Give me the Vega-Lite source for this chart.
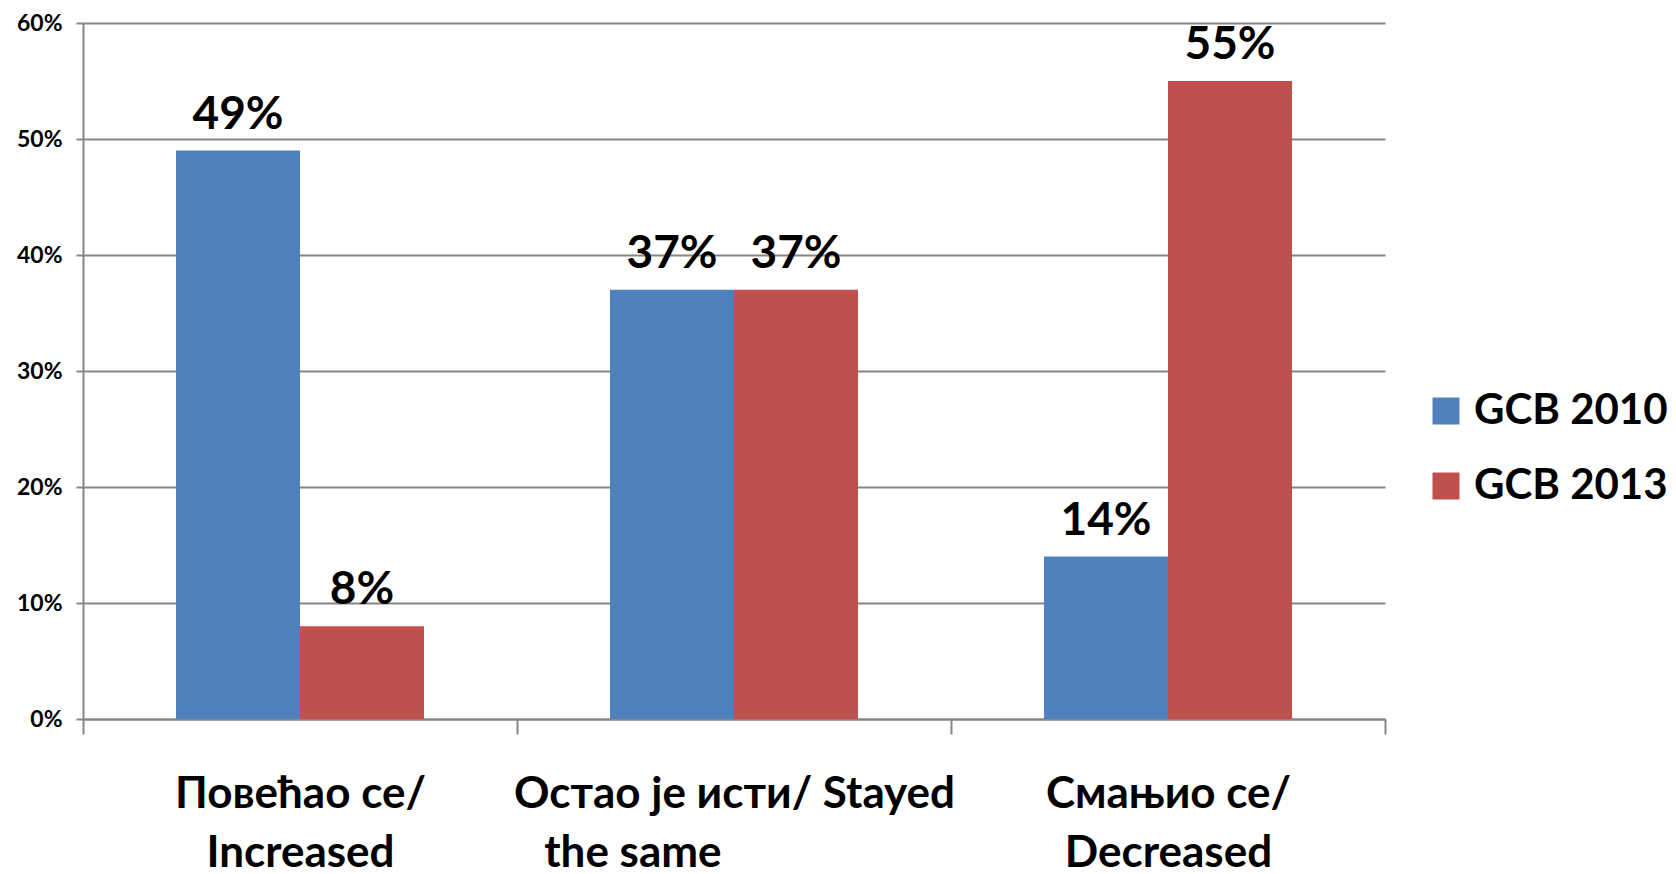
{
  "$schema": "https://vega.github.io/schema/vega-lite/v6.json",
  "width": 1302,
  "height": 696,
  "autosize": {"type": "none"},
  "padding": {"left": 83, "top": 23, "right": 291, "bottom": 155},
  "background": "white",
  "config": {"view": {"stroke": null}, "font": "Lato"},
  "data": {
    "values": [
      {"category": "Повећао се/ Increased", "series": "GCB 2010", "value": 0.49},
      {"category": "Повећао се/ Increased", "series": "GCB 2013", "value": 0.08},
      {"category": "Остао је исти/ Stayed the same", "series": "GCB 2010", "value": 0.37},
      {"category": "Остао је исти/ Stayed the same", "series": "GCB 2013", "value": 0.37},
      {"category": "Смањио се/ Decreased", "series": "GCB 2010", "value": 0.14},
      {"category": "Смањио се/ Decreased", "series": "GCB 2013", "value": 0.55}
    ]
  },
  "encoding": {
    "x": {
      "field": "category",
      "type": "nominal",
      "sort": null,
      "scale": {"paddingInner": 0, "paddingOuter": 0},
      "axis": {
        "title": null,
        "labelAngle": 0,
        "tickBand": "extent",
        "domainColor": "#868686",
        "domainWidth": 2,
        "tickColor": "#868686",
        "tickWidth": 2,
        "tickSize": 15,
        "labelPadding": 38,
        "labelFont": "Lato",
        "labelFontWeight": "bold",
        "labelFontSize": 44,
        "labelColor": "black",
        "labelLineHeight": 59,
        "labelBaseline": "top",
        "labelLimit": 0,
        "labelExpr": "datum.label == 'Остао је исти/ Stayed the same' ? ['Остао је исти/ Stayed', 'the same\u00a0\u00a0\u00a0\u00a0\u00a0\u00a0\u00a0\u00a0\u00a0\u00a0\u00a0\u00a0\u00a0\u00a0\u00a0\u00a0\u00a0\u00a0\u00a0\u200b'] : datum.label == 'Повећао се/ Increased' ? ['Повећао се/', 'Increased'] : datum.label == 'Смањио се/ Decreased' ? ['Смањио се/', 'Decreased'] : ''"
      }
    },
    "xOffset": {
      "field": "series",
      "type": "nominal",
      "scale": {"paddingInner": 0, "paddingOuter": 0.75}
    },
    "y": {
      "field": "value",
      "type": "quantitative",
      "scale": {"domain": [0, 0.6]},
      "axis": {
        "title": null,
        "format": ".0%",
        "values": [0, 0.1, 0.2, 0.3, 0.4, 0.5, 0.6],
        "grid": true,
        "gridColor": "#868686",
        "gridWidth": 2,
        "domainColor": "#868686",
        "domainWidth": 2,
        "tickColor": "#868686",
        "tickWidth": 2,
        "tickSize": 7,
        "labelPadding": 14,
        "labelFont": "Lato",
        "labelFontSize": 23,
        "labelFontWeight": "bold",
        "labelColor": "black"
      }
    }
  },
  "layer": [
    {
      "mark": {"type": "bar"},
      "encoding": {
        "color": {
          "field": "series",
          "type": "nominal",
          "scale": {"range": ["#4F81BD", "#C0504D"]},
          "legend": {
            "title": null,
            "orient": "none",
            "legendX": 1342,
            "legendY": 367,
            "padding": 0,
            "symbolType": "square",
            "symbolSize": 729,
            "symbolStrokeWidth": 0,
            "symbolOpacity": 1,
            "labelFont": "Lato",
            "labelFontSize": 42,
            "labelFontWeight": "bold",
            "labelColor": "black",
            "labelOffset": 7,
            "rowPadding": 33,
            "labelLimit": 0
          }
        }
      }
    },
    {
      "mark": {"type": "text", "baseline": "alphabetic", "dy": -22, "fontSize": 46, "fontWeight": "bold", "font": "Lato", "color": "black"},
      "encoding": {
        "text": {"field": "value", "type": "quantitative", "format": ".0%"}
      }
    }
  ]
}
